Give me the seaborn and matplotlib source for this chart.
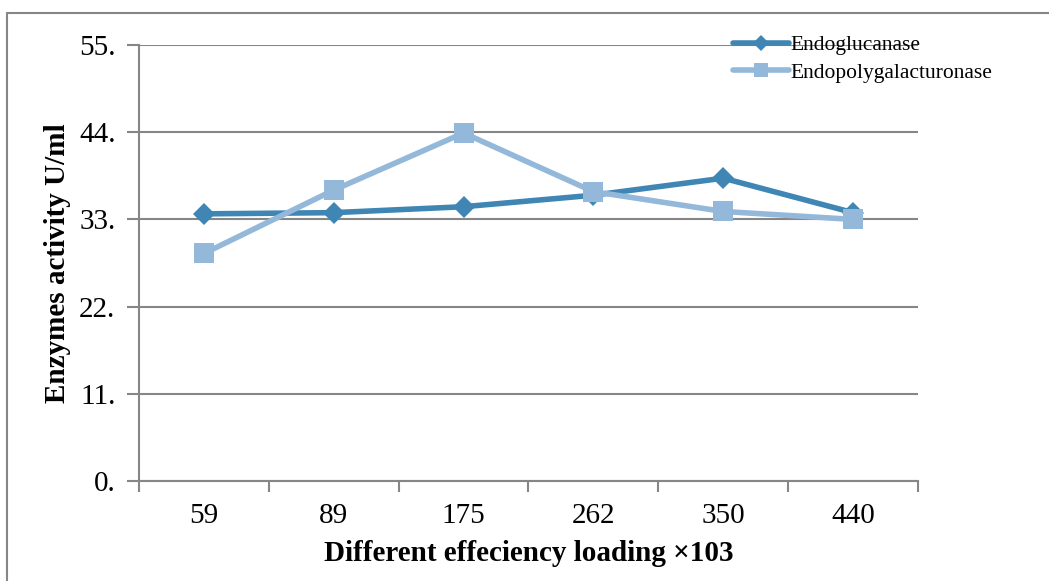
import matplotlib
matplotlib.use("Agg")
import matplotlib.pyplot as plt
from matplotlib.lines import Line2D
from matplotlib.ticker import FixedLocator, NullFormatter
import seaborn as sns
import pandas as pd

categories = ["59", "89", "175", "262", "350", "440"]
endoglucanase = [33.7, 33.85, 34.6, 36.05, 38.2, 33.85]
endopolygalacturonase = [28.7, 36.7, 43.9, 36.5, 34.0, 33.0]
y_ticks = [0, 11, 22, 33, 44, 55]
y_tick_labels = ["0.", "11.", "22.", "33.", "44.", "55."]

sns.set_theme(style="white")
plt.rcParams["font.family"] = ["Liberation Serif", "DejaVu Serif"]
plt.rcParams["text.color"] = "black"
plt.rcParams["axes.labelcolor"] = "black"

df = pd.DataFrame({
    "loading": categories * 2,
    "pos": list(range(len(categories))) * 2,
    "value": endoglucanase + endopolygalacturonase,
    "enzyme": ["Endoglucanase"] * len(categories) + ["Endopolygalacturonase"] * len(categories),
})

fig = plt.figure(figsize=(10.49, 5.81), dpi=100)
ax = fig.add_axes([139 / 1049, 100 / 581, (918 - 139) / 1049, (481 - 45) / 581])

palette = {"Endoglucanase": "#3F86B4", "Endopolygalacturonase": "#93B8D9"}
sns.lineplot(data=df, x="pos", y="value", hue="enzyme", style="enzyme",
             markers={"Endoglucanase": "D", "Endopolygalacturonase": "s"},
             dashes=False, palette=palette, linewidth=4, ax=ax, legend=False,
             markeredgewidth=0)
for line, ms in zip(ax.lines, [11, 15]):
    line.set_markersize(ms)

ax.set_xlim(-0.5, len(categories) - 0.5)
ax.set_ylim(0, 55)
ax.set_yticks(y_ticks)
ax.set_yticklabels(y_tick_labels)
ax.set_xticks(range(len(categories)))
ax.set_xticklabels(categories)
ax.xaxis.set_minor_locator(FixedLocator([i - 0.5 for i in range(len(categories) + 1)]))
ax.xaxis.set_minor_formatter(NullFormatter())
ax.tick_params(axis="x", which="major", length=0, labelsize=21, pad=16, colors="black")
ax.tick_params(axis="x", which="minor", length=8, width=1.5, color="#868686", direction="out", bottom=True)
ax.tick_params(axis="y", which="major", length=9, width=1.5, color="#868686", direction="out", left=True,
               labelsize=21, pad=8, labelcolor="black")
ax.yaxis.grid(True, color="#868686", linewidth=1.5)
ax.set_axisbelow(True)
for side in ["top", "right"]:
    ax.spines[side].set_visible(False)
for side in ["left", "bottom"]:
    ax.spines[side].set_color("#868686")
    ax.spines[side].set_linewidth(1.5)

ax.set_xlabel("Different effeciency loading \u00d7103", fontsize=21, fontweight="bold", labelpad=8, color="black")
ax.set_ylabel("Enzymes activity U/ml", fontsize=21, fontweight="bold", labelpad=6, color="black")

handles = [
    Line2D([], [], color=palette["Endoglucanase"], lw=4, marker="D", ms=8, mew=0),
    Line2D([], [], color=palette["Endopolygalacturonase"], lw=4, marker="s", ms=10, mew=0),
]
fig.legend(handles, ["Endoglucanase", "Endopolygalacturonase"], loc="upper left",
           bbox_to_anchor=(733 / 1049, 1 - 35 / 581), frameon=False, fontsize=15.5,
           handlelength=2.6, handletextpad=0.05, labelspacing=0.35, borderpad=0, borderaxespad=0,
           labelcolor="black")

fig.add_artist(Line2D([7 / 1049, 7 / 1049], [0, 1 - 13 / 581], transform=fig.transFigure,
                      color="#868686", lw=1.5))
fig.add_artist(Line2D([7 / 1049, 1], [1 - 13 / 581, 1 - 13 / 581], transform=fig.transFigure,
                      color="#868686", lw=1.5))

fig.savefig("out.png", dpi=100)
